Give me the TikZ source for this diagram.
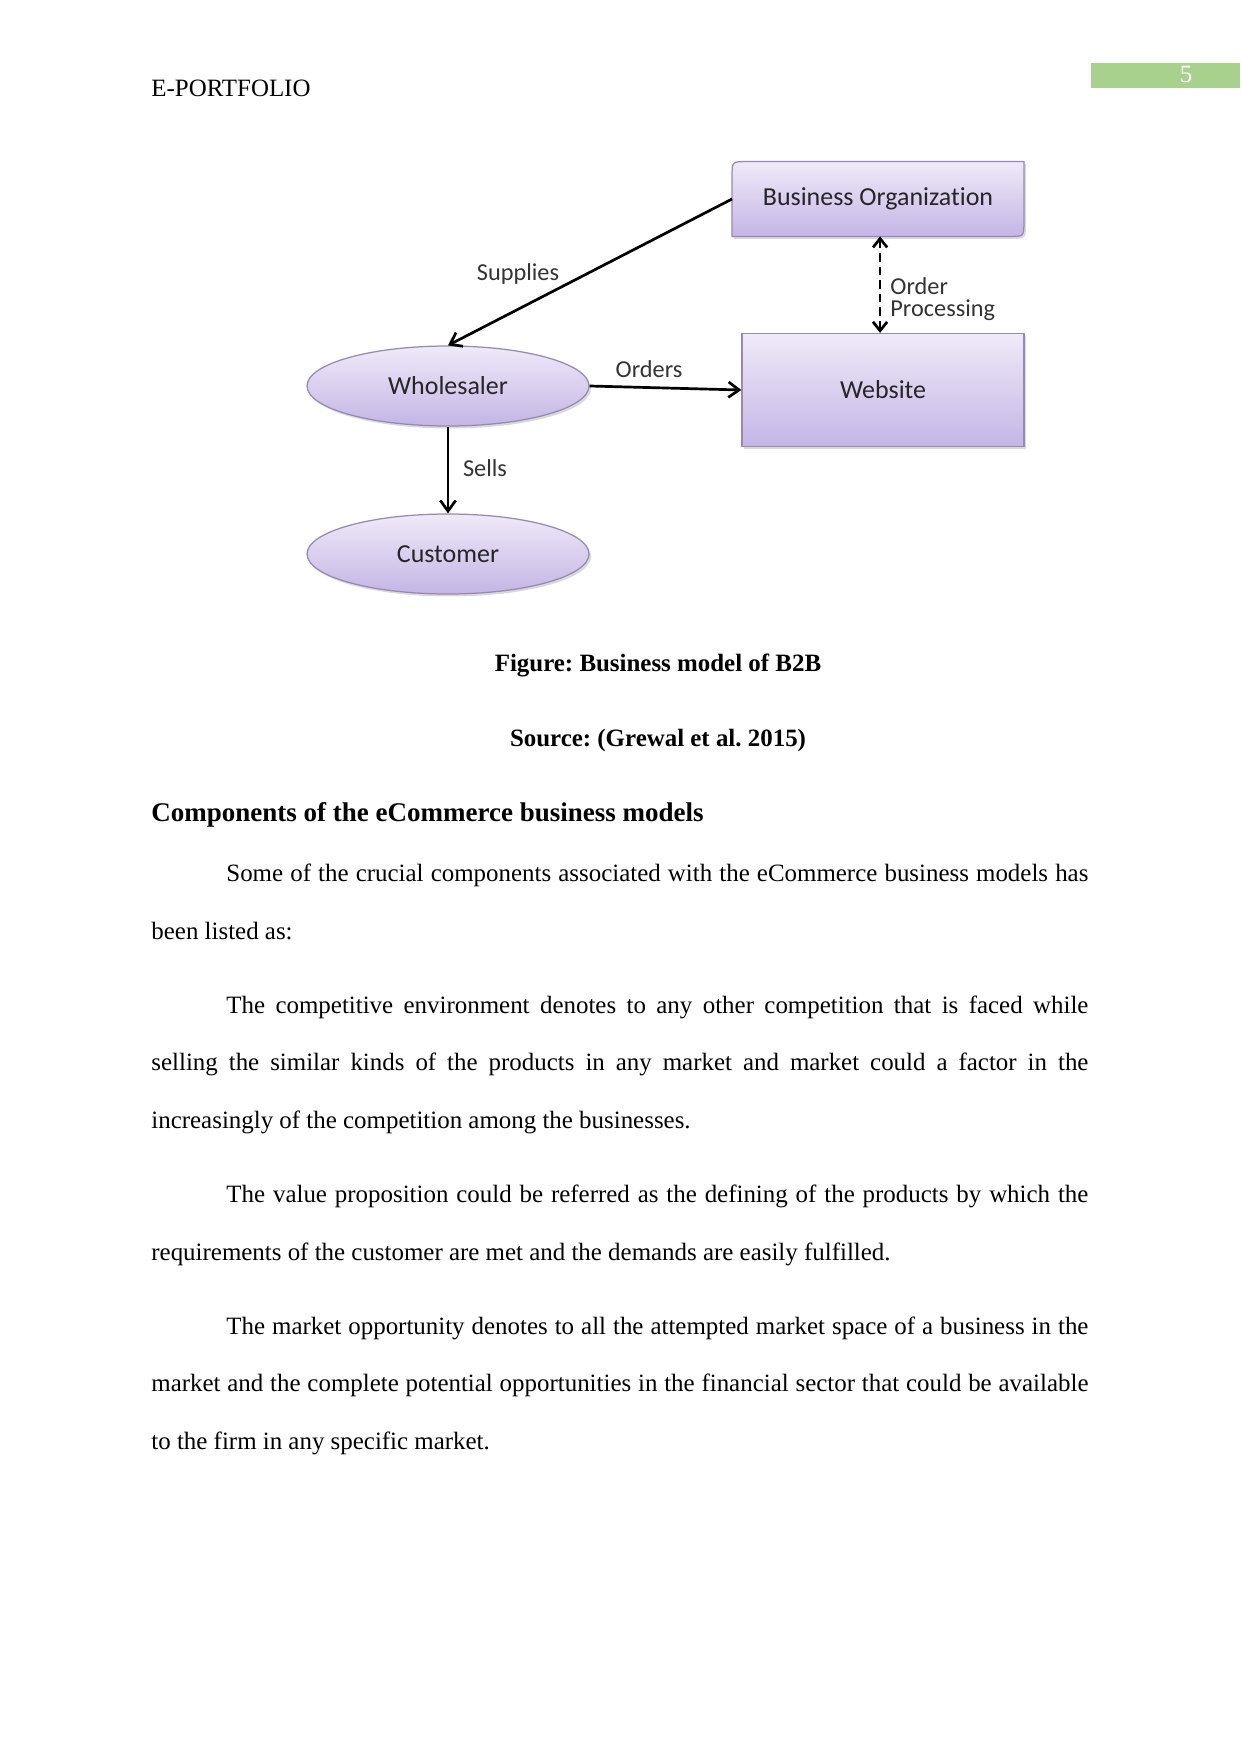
\documentclass[tikz,border=0pt]{standalone}
\usepackage{fontspec}
\setmainfont{Liberation Serif}
\newfontfamily\calibfont[Ligatures=NoCommon]{Carlito}
\usepackage{tikz}
\usetikzlibrary{positioning,arrows.meta,shapes.geometric,shadows,backgrounds}
\definecolor{cTop}{RGB}{239,234,249}
\definecolor{cBot}{RGB}{196,181,229}
\definecolor{cEdge}{RGB}{150,138,180}
\definecolor{cTag}{RGB}{169,209,142}
\newdimen\pxu \pxu=0.16922mm
\frenchspacing

\begin{document}
\begin{tikzpicture}[x=0.16922mm,y=-0.16922mm,font=\fontsize{12}{14}\selectfont]
\tikzset{
 shd/.style={top color=cTop,bottom color=cBot,draw=cEdge,line width=0.6pt,
   drop shadow={shadow xshift=1pt,shadow yshift=-1.2pt,opacity=.3}},
 ovl/.style={ellipse,shd,minimum width=282\pxu,minimum height=80\pxu,inner sep=0,
   font=\calibfont\fontsize{12.5}{14}\selectfont,text=black!85},
 blk/.style={rectangle,shd,minimum width=282\pxu,minimum height=113\pxu,inner sep=0,
   font=\calibfont\fontsize{12.5}{14}\selectfont,text=black!85},
 lbl/.style={font=\calibfont\fontsize{11.7}{10.6}\selectfont,text=black!80,inner sep=0},
 ar/.style={-{Straight Barb[length=1.8mm,width=2.6mm]},line width=1.3pt},
 bodyl/.style={anchor=base west,inner sep=0},
 capt/.style={anchor=base,font=\bfseries\fontsize{12}{14}\selectfont,inner sep=0}
}
\useasboundingbox (0,0) rectangle (1241,1754);

% page head
\node[bodyl] (hdr) at (151,96.7) {E-PORTFOLIO};
\node[fill=cTag,minimum width=149\pxu,minimum height=25\pxu,inner sep=0] (tag) at (1165.5,75.5) {};
\node[anchor=base,text=white,inner sep=0] (pgno) at (1186,83) {5};

% diagram
\node[ovl] (wh) at (448,386) {Wholesaler};
\node[ovl] (cu) at (448,554) {Customer};
\node[blk] (web) at (883,390) {Website};
\node[minimum width=291\pxu,minimum height=74\pxu,inner sep=0,
  font=\calibfont\fontsize{12.5}{14}\selectfont,text=black!85] (bo) at (878,199) {Business Organization};
\begin{scope}[on background layer]
\draw[shd] ([yshift=-7pt]bo.north west) .. controls (bo.north west) .. ([xshift=7pt]bo.north west)
  -- (bo.north east) -- ([yshift=7pt]bo.south east) .. controls (bo.south east) .. ([xshift=-7pt]bo.south east)
  -- (bo.south west) -- cycle;
\end{scope}

\draw[ar] (bo.west) -- (wh.north);
\draw[ar] (wh.east) -- (web.west);
\draw[ar] (wh.south) -- (cu.north);
\draw[line width=1.3pt,dash pattern=on 4pt off 2.5pt,{Straight Barb[length=1.5mm,width=2.4mm]}-{Straight Barb[length=1.5mm,width=2.4mm]}]
  ([xshift=1pt]bo.south) -- ([xshift=1pt]bo.south |- web.north);

\node[lbl] (lsup) at (518,274) {Supplies};
\node[lbl] (lord) at (649,369) {Orders};
\node[lbl] (lsel) at (485,468) {Sells};
\node[lbl,anchor=west,align=left] (lproc) at (890,299) {Order\\Processing};

% caption
\node[capt] (cap) at (658,671) {Figure: Business model of B2B};
\node[capt] (src) at (658,746) {Source: (Grewal et al. 2015)};

% text
\node[bodyl,font=\bfseries\fontsize{13}{15}\selectfont] (head) at (151,821.7) {Components of the eCommerce business models};
\node[bodyl] (p1a) at (226,881.7) {\makebox[862\pxu][s]{Some of the crucial components associated with the eCommerce business models has}};
\node[bodyl] (p1b) at (151,939) {been listed as:};
\node[bodyl] (p2a) at (226,1013.5) {\makebox[862\pxu][s]{The competitive environment denotes to any other competition that is faced while}};
\node[bodyl] (p2b) at (151,1070.8) {\makebox[937\pxu][s]{selling the similar kinds of the products in any market and market could a factor in the}};
\node[bodyl] (p2c) at (151,1128.2) {increasingly of the competition among the businesses.};
\node[bodyl] (p3a) at (226,1202.7) {\makebox[862\pxu][s]{The value proposition could be referred as the defining of the products by which the}};
\node[bodyl] (p3b) at (151,1260) {requirements of the customer are met and the demands are easily fulfilled.};
\node[bodyl] (p4a) at (226,1334.5) {\makebox[862\pxu][s]{The market opportunity denotes to all the attempted market space of a business in the}};
\node[bodyl] (p4b) at (151,1391.8) {\makebox[937\pxu][s]{market and the complete potential opportunities in the financial sector that could be available}};
\node[bodyl] (p4c) at (151,1449) {to the firm in any specific market.};
\end{tikzpicture}
\end{document}
